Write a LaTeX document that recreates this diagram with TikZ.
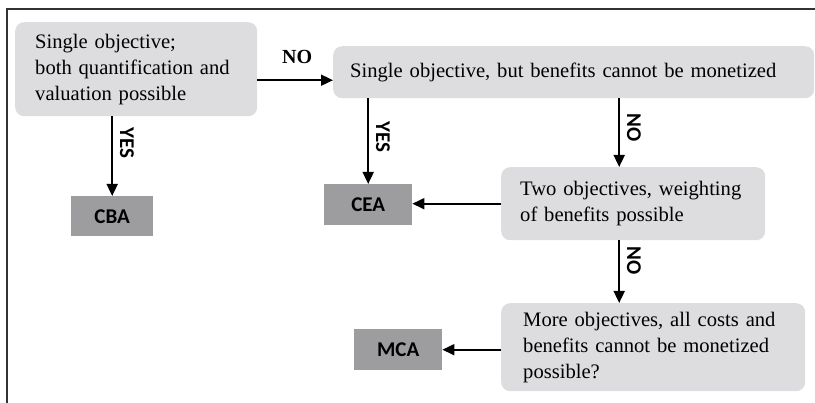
\documentclass[tikz,border=0pt]{standalone}
\usepackage{fontspec}
\setmainfont{Liberation Serif}
\newfontfamily\labelfont{Carlito}
\usepackage{tikz}
\usetikzlibrary{arrows.meta}
\definecolor{lightbox}{RGB}{221,221,223}
\definecolor{darkbox}{RGB}{157,157,159}
\tikzstyle{question}=[rectangle,
rounded corners=9pt,
fill=lightbox,
inner sep=0pt,
anchor=north west,
align=left,
font=\fontsize{20.6}{26}\selectfont]
\tikzstyle{method}=[rectangle,
fill=darkbox,
inner sep=0pt,
anchor=north west,
font=\labelfont\bfseries\fontsize{21}{23}\selectfont]
\tikzstyle{answer}=[rotate=-90,
anchor=south,
inner sep=7pt,
font=\labelfont\bfseries\fontsize{21}{23}\selectfont]
\tikzstyle{toplabel}=[inner sep=0pt,
above=16pt,
xshift=2pt,
font=\bfseries\fontsize{20}{22}\selectfont]
\tikzstyle{frame}=[line width=2pt,
draw=black!80]

\begin{document}
\begin{tikzpicture}[x=1pt,y=-1pt,>={Triangle[length=12pt,width=11pt]}]
	\useasboundingbox (0,0) rectangle (815,403);
	% Only the left and top edges of the frame show
	\draw[frame] (7,403) -- (7,9) -- (815,9);
	
	% Questions, from the top down
	\node (q1) [question, minimum width=242pt, minimum height=94pt, text width=202pt]
	at (15,22) {Single objective;\\both quantification and\\valuation possible};
	\node (q2) [question, minimum width=481pt, minimum height=52pt, text width=447pt]
	at (333,46) {Single objective, but benefits cannot be monetized};
	\node (q3) [question, minimum width=264pt, minimum height=73pt, text width=226pt]
	at (501,167) {Two objectives, weighting\\of benefits possible};
	\node (q4) [question, minimum width=304pt, minimum height=88pt, text width=260pt]
	at (501,303) {More objectives, all costs and\\benefits cannot be monetized\\possible?};
	
	% Resulting methods
	\node (cba) [method, minimum width=82pt, minimum height=40pt] at (71,196) {CBA};
	\node (cea) [method, minimum width=88pt, minimum height=41pt] at (324,184) {CEA};
	\node (mca) [method, minimum width=88pt, minimum height=41pt] at (354,329) {MCA};
	
	% Connections
	\path[->, line width=1.8pt]
	([yshift=-11pt]q1.east) edge node (no1) [toplabel] {NO} ([yshift=-8pt]q2.west)
	(q1.south -| cba.north) edge node (yes1) [answer, pos=.33] {YES} (cba.north)
	(q2.south -| cea.north) edge node (yes2) [answer, pos=.45] {YES} (cea.north)
	([xshift=-14pt]q3.north |- q2.south) edge node (no2) [answer, pos=.42] {NO} ([xshift=-14pt]q3.north)
	(q3.west) edge (cea.east |- q3.west)
	([xshift=-14pt]q3.south) edge node (no3) [answer, pos=.32] {NO} ([xshift=-14pt]q3.south |- q4.north)
	(mca.east -| q4.west) edge (mca.east)
	;
\end{tikzpicture}
\end{document}
